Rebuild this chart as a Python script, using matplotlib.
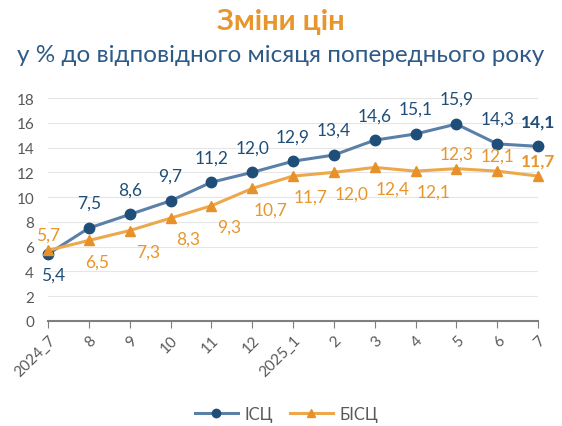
import matplotlib.pyplot as plt
import numpy as np

plt.rcParams['font.family'] = ['Lato', 'DejaVu Sans']

months = ['2024_7', '8', '9', '10', '11', '12', '2025_1', '2', '3', '4', '5', '6', '7']
isc = [5.4, 7.5, 8.6, 9.7, 11.2, 12.0, 12.9, 13.4, 14.6, 15.1, 15.9, 14.3, 14.1]
bisc = [5.7, 6.5, 7.3, 8.3, 9.3, 10.7, 11.7, 12.0, 12.4, 12.1, 12.3, 12.1, 11.7]

# label offsets in points (dx, dy)
isc_offsets = [(4, -15)] + [(0, 18)] * 12
bisc_offsets = [(0, 11), (6, -15)] + [(13, -15)] * 8 + [(0, 11), (0, 11), (0, 11)]

blue_dark = '#1f4e79'
blue_line = '#5b80a8'
orange_mark = '#e8902a'
orange_line = '#eba84c'
orange_text = '#e8952c'

fig = plt.figure(figsize=(5.62, 4.27), dpi=100)
ax = fig.add_axes([0.0854, 0.246, 0.872, 0.522])

x = np.arange(len(months))
ax.plot(x, isc, color=blue_line, lw=2.2, marker='o', ms=7.5,
        mfc=blue_dark, mec=blue_dark, label='ІСЦ', zorder=3)
ax.plot(x, bisc, color=orange_line, lw=2.2, marker='^', ms=7.5,
        mfc=orange_mark, mec=orange_mark, label='БІСЦ', zorder=3)

for i, v in enumerate(isc):
    dx, dy = isc_offsets[i]
    ax.annotate(f'{v:.1f}'.replace('.', ','), (i, v), xytext=(dx, dy),
                textcoords='offset points', ha='center', va='center',
                fontsize=12.5, color=blue_dark,
                fontweight='bold' if i == len(isc) - 1 else 'normal')
for i, v in enumerate(bisc):
    dx, dy = bisc_offsets[i]
    ax.annotate(f'{v:.1f}'.replace('.', ','), (i, v), xytext=(dx, dy),
                textcoords='offset points', ha='center', va='center',
                fontsize=12.5, color=orange_text,
                fontweight='bold' if i == len(bisc) - 1 else 'normal')

ax.set_xlim(0, len(months) - 1)
ax.set_ylim(0, 18)
ax.set_yticks(range(0, 19, 2))
ax.set_xticks(x)
ax.set_xticklabels(months, rotation=45, ha='right', rotation_mode='anchor')
ax.tick_params(axis='y', length=0, labelsize=11, labelcolor='#595959', pad=10)
ax.tick_params(axis='x', length=5, color='#7f7f7f', labelsize=11, labelcolor='#595959')
ax.grid(axis='y', color='#e6e6e6', lw=0.8)
ax.set_axisbelow(True)
for s in ['top', 'right', 'left']:
    ax.spines[s].set_visible(False)
ax.spines['bottom'].set_color('#7f7f7f')
ax.spines['bottom'].set_linewidth(1.5)
for ln in ax.lines:
    ln.set_clip_on(False)

fig.text(0.5, 0.948, 'Зміни цін', ha='center', va='center', fontsize=21,
         fontweight='bold', color=orange_text)
fig.text(0.5, 0.871, 'у % до відповідного місяця попереднього року', ha='center',
         va='center', fontsize=17.5, color='#2e5a87')

fig.legend(loc='center', bbox_to_anchor=(0.51, 0.028), ncol=2, frameon=False,
           fontsize=12, handlelength=2.6, columnspacing=1.0, handletextpad=0.4,
           labelcolor='#595959', markerscale=0.8)

fig.savefig('out.png', dpi=100)
